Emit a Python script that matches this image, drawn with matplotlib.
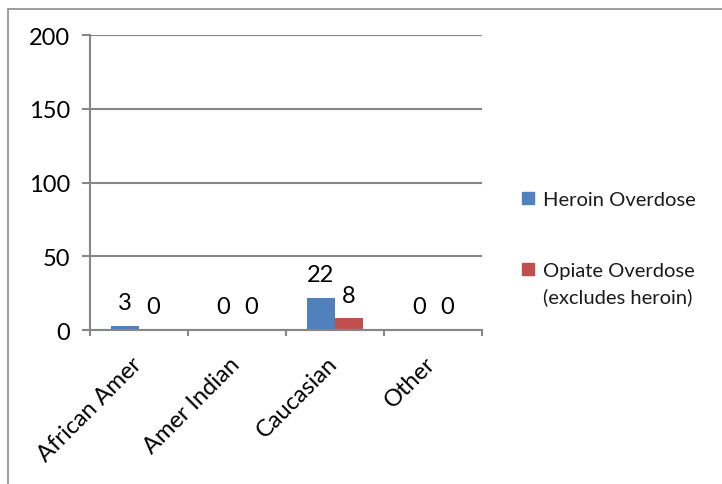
import numpy as np
import matplotlib.pyplot as plt
import matplotlib.transforms as mtransforms
from matplotlib.patches import Rectangle

plt.rcParams['font.family'] = ['Lato', 'DejaVu Sans']

categories = ['African Amer', 'Amer Indian', 'Caucasian', 'Other']
heroin = [3, 0, 22, 0]
opiate = [0, 0, 8, 0]
series_names = ['Heroin Overdose', 'Opiate Overdose\n(excludes heroin)']

blue = '#4F81BD'
red = '#C0504D'
grey = '#868686'

fig = plt.figure(figsize=(7.22, 4.85), dpi=100)
# outer chart frame
fig.patches.append(Rectangle((8 / 722, -0.1), 1.2, 1 - 10 / 485 + 0.1,
                             transform=fig.transFigure, fill=False,
                             edgecolor='#8c8c8c', linewidth=1.2))

ax = fig.add_axes([90 / 722, 1 - 331 / 485, 392 / 722, 295 / 485])

x = np.arange(len(categories))
w = 0.286
b1 = ax.bar(x - w / 2, heroin, w, color=blue)
b2 = ax.bar(x + w / 2, opiate, w, color=red)
ax.bar_label(b1, padding=9, fontsize=17)
ax.bar_label(b2, padding=9, fontsize=17)

ax.set_xlim(-0.5, len(categories) - 0.5)
ax.set_ylim(0, 200)
ax.set_yticks([0, 50, 100, 150, 200])
ax.yaxis.grid(True, color=grey, linewidth=1.5)
ax.set_axisbelow(True)

# category ticks sit on the boundaries between groups
ax.set_xticks(np.arange(-0.5, len(categories), 1.0))
ax.set_xticklabels([])
ax.set_xticks(x, minor=True)
ax.set_xticklabels(categories, minor=True, rotation=45, ha='right',
                   rotation_mode='anchor', fontsize=17)
ax.tick_params(axis='x', which='minor', length=0, pad=12)
ax.tick_params(axis='x', which='major', length=4.5, width=1.5, color=grey)
ax.tick_params(axis='y', length=5.5, width=1.5, color=grey, labelsize=17, pad=9)

# nudge the slanted category names left and down
shift = mtransforms.ScaledTranslation(-8 / 100, -6 / 100, fig.dpi_scale_trans)
for lbl in ax.get_xticklabels(minor=True):
    lbl.set_transform(lbl.get_transform() + shift)

for side in ['top', 'right']:
    ax.spines[side].set_visible(False)
for side in ['left', 'bottom']:
    ax.spines[side].set_color(grey)
    ax.spines[side].set_linewidth(1.5)

# legend: swatch lined up with the first line of each entry
legend_rows = [(199, blue), (270, red)]
for (ypix, col), name in zip(legend_rows, series_names):
    fig.patches.append(Rectangle((522 / 722, 1 - (ypix + 6) / 485), 12 / 722, 12 / 485,
                                 transform=fig.transFigure, color=col))
    fig.text(543 / 722, 1 - (ypix - 7) / 485, name, fontsize=14.5,
             va='top', ha='left', linespacing=1.57, color='#1a1a1a')

plt.savefig('out.png', dpi=100)
